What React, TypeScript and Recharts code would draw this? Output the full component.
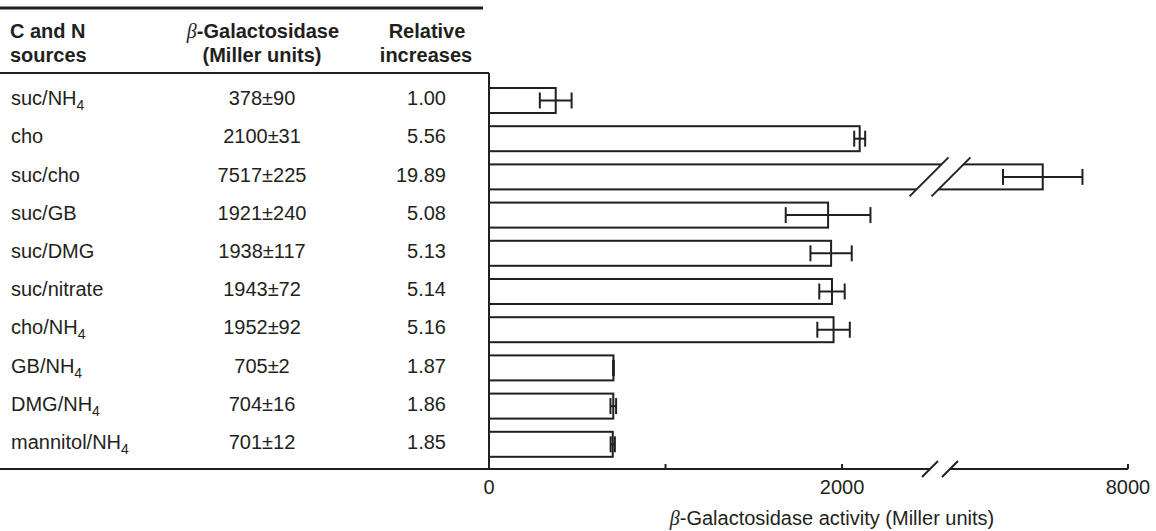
import React from 'react';
import { BarChart, Bar, XAxis, YAxis, ErrorBar } from 'recharts';

// ---------- data ----------
const categories = ['suc/NH4', 'cho', 'suc/cho', 'suc/GB', 'suc/DMG', 'suc/nitrate', 'cho/NH4', 'GB/NH4', 'DMG/NH4', 'mannitol/NH4'];
const activity = [378, 2100, 7517, 1921, 1938, 1943, 1952, 705, 704, 701];
const activityError = [90, 31, 225, 240, 117, 72, 92, 2, 16, 12];
const activityLabels = ['378±90', '2100±31', '7517±225', '1921±240', '1938±117', '1943±72', '1952±92', '705±2', '704±16', '701±12'];
const relativeIncreases = ['1.00', '5.56', '19.89', '5.08', '5.13', '5.14', '5.16', '1.87', '1.86', '1.85'];
const tickValues = [0, 1000, 2000, 8000];
const tickLabels = ['0', '', '2000', '8000'];
const axisMax = 8000;
// broken axis: lower segment ends at BREAK_LOW, upper segment resumes at BREAK_HIGH
const BREAK_LOW = 2555;
const BREAK_HIGH = 6935;

const INK = '#231f20';
const FONT = '"Liberation Sans", Arial, Helvetica, sans-serif';
const SERIF = '"Liberation Serif", "DejaVu Serif", serif';

const toAxis = (v: number) => (v <= BREAK_LOW ? v : v - (BREAK_HIGH - BREAK_LOW));

const rows = categories.map((name, i) => ({
  name,
  value: toAxis(activity[i]),
  raw: activity[i],
  err: activityError[i],
}));

const breakTick = toAxis(BREAK_LOW);
const axisTicks = [...tickValues.map(toAxis), breakTick];

const renderName = (name: string) => {
  if (name.endsWith('NH4')) {
    return (
      <>
        {name.slice(0, -1)}
        <tspan dy={5} fontSize={14}>4</tspan>
      </>
    );
  }
  return name;
};

const BreakMarks = ({ cx, yTop, yBot, half, lean }: { cx: number; yTop: number; yBot: number; half: number; lean: number }) => {
  const x1a = cx - half - lean, x1b = cx - half + lean;
  const x2a = cx + half - lean, x2b = cx + half + lean;
  return (
    <g>
      <polygon points={`${x1a},${yBot} ${x1b},${yTop} ${x2b},${yTop} ${x2a},${yBot}`} fill="#fff" stroke="none" />
      <line x1={x1a} y1={yBot} x2={x1b} y2={yTop} stroke={INK} strokeWidth={2} />
      <line x1={x2a} y1={yBot} x2={x2b} y2={yTop} stroke={INK} strokeWidth={2} />
    </g>
  );
};

const BarShape = (props: any) => {
  const { x, y, width, height, payload } = props;
  const rect = <rect x={x} y={y} width={width} height={height} fill="#fff" stroke={INK} strokeWidth={2} />;
  if (!payload || payload.raw <= BREAK_LOW) return rect;
  const xb = x + (width * breakTick) / payload.value;
  return (
    <g>
      {rect}
      <BreakMarks cx={xb} yTop={y - 7} yBot={y + height + 7} half={11} lean={(height + 14) / 2} />
    </g>
  );
};

const YTick = (props: any) => {
  const { y, payload } = props;
  const i = categories.indexOf(payload.value);
  const by = y + 5;
  return (
    <g fill={INK} fontFamily={FONT} fontSize={20}>
      <text x={11} y={by} textAnchor="start">{renderName(categories[i])}</text>
      <text x={262} y={by} textAnchor="middle">{activityLabels[i]}</text>
      <text x={446} y={by} textAnchor="end">{relativeIncreases[i]}</text>
    </g>
  );
};

const XTick = (props: any) => {
  const { x, y, payload } = props;
  if (payload.value === breakTick) {
    return <BreakMarks cx={x} yTop={y - 8} yBot={y + 8} half={10} lean={8} />;
  }
  const k = tickValues.map(toAxis).indexOf(payload.value);
  const label = tickLabels[k];
  return (
    <g>
      {payload.value !== 0 && <line x1={x} y1={y} x2={x} y2={y - 5} stroke={INK} strokeWidth={2} />}
      <text x={x} y={y + 25} textAnchor="middle" fill={INK} fontFamily={FONT} fontSize={20}>{label}</text>
    </g>
  );
};

export default function App() {
  return (
    <div style={{ position: 'absolute', left: 0, top: 0, width: 1156, height: 531, background: '#fff', fontFamily: FONT }}>
      <BarChart
        width={1156}
        height={531}
        data={rows}
        layout="vertical"
        margin={{ top: 73, right: 28, bottom: 0, left: 0 }}
        barSize={25}
      >
        <XAxis
          type="number"
          domain={[0, toAxis(axisMax)]}
          ticks={axisTicks}
          interval={0}
          height={62}
          tickSize={0}
          tickMargin={0}
          tickLine={false}
          axisLine={{ stroke: INK, strokeWidth: 2 }}
          tick={<XTick />}
          allowDataOverflow
        />
        <YAxis
          type="category"
          dataKey="name"
          width={489}
          padding={{ top: 8, bottom: 6 }}
          tickSize={0}
          tickLine={false}
          axisLine={{ stroke: INK, strokeWidth: 2 }}
          tick={<YTick />}
          interval={0}
        />
        <Bar dataKey="value" shape={<BarShape />} isAnimationActive={false}>
          <ErrorBar dataKey="err" direction="x" width={8} stroke={INK} strokeWidth={2} />
        </Bar>
      </BarChart>
      <svg width={1156} height={531} style={{ position: 'absolute', left: 0, top: 0, pointerEvents: 'none' }}>
        <line x1={0} y1={8} x2={483} y2={8} stroke={INK} strokeWidth={3} />
        <line x1={0} y1={73} x2={489} y2={73} stroke={INK} strokeWidth={2} />
        <line x1={0} y1={469} x2={489} y2={469} stroke={INK} strokeWidth={2} />
        <g fill={INK} fontFamily={FONT} fontSize={20} fontWeight="bold">
          <text x={10} y={38}>C and N</text>
          <text x={10} y={62}>sources</text>
          <text x={263} y={38} textAnchor="middle">
            <tspan fontFamily={SERIF} fontStyle="italic" fontWeight="normal">β</tspan>-Galactosidase
          </text>
          <text x={262} y={62} textAnchor="middle">(Miller units)</text>
          <text x={427} y={38} textAnchor="middle">Relative</text>
          <text x={426} y={62} textAnchor="middle">increases</text>
        </g>
        <text x={832} y={525} textAnchor="middle" fill={INK} fontFamily={FONT} fontSize={20}>
          <tspan fontFamily={SERIF} fontStyle="italic">β</tspan>-Galactosidase activity (Miller units)
        </text>
      </svg>
    </div>
  );
}
